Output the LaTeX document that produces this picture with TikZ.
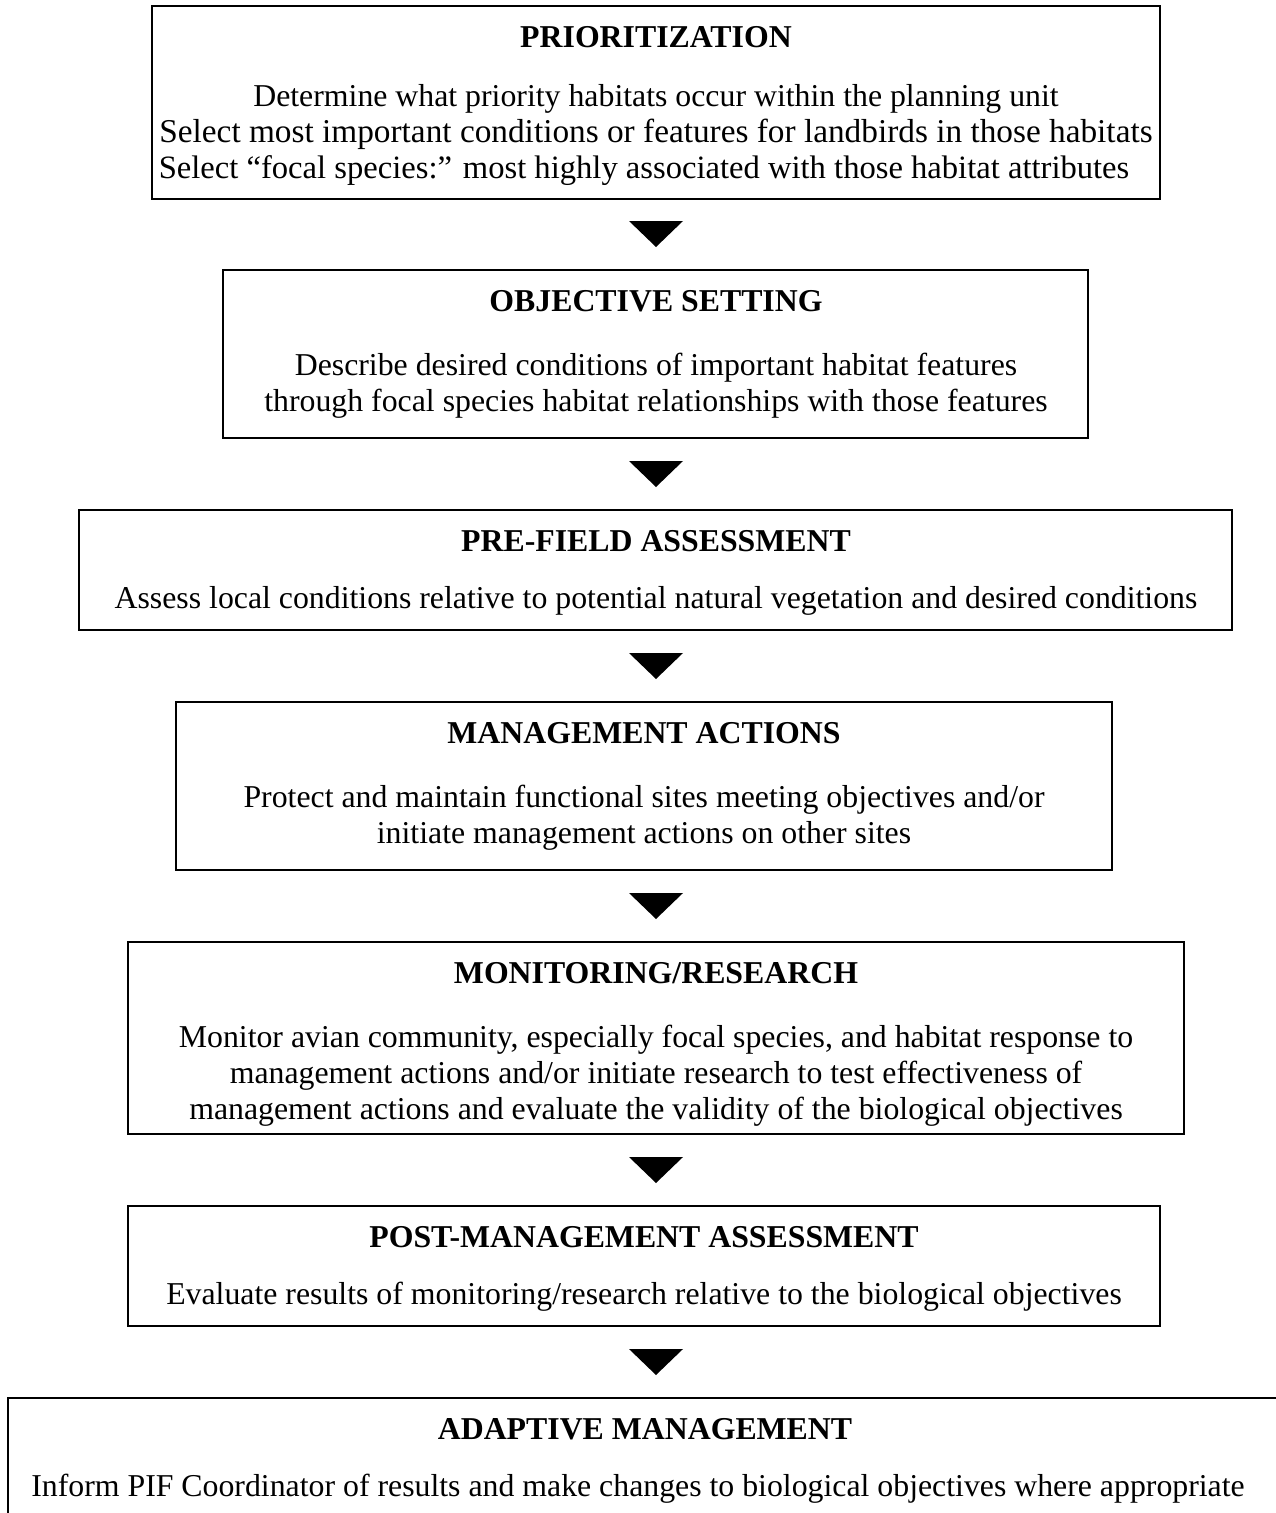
\documentclass[tikz,border=0pt]{standalone}
\usepackage{fontspec}
\setmainfont{Liberation Serif}
\usetikzlibrary{calc}
\begin{document}
\begin{tikzpicture}[x=1pt,y=-1pt,
  box/.style={draw=black,line width=1.7pt},
  ttl/.style={anchor=base,inner sep=0pt,font=\fontsize{31.8}{36}\selectfont\bfseries},
  txt/.style={anchor=base,inner sep=0pt,font=\fontsize{31.8}{36}\selectfont},
  tri/.style={fill=black}]
\clip (0,0) rectangle (1276,1513);
\useasboundingbox (0,0) rectangle (1276,1513);
% boxes
\coordinate (b1a) at (152,6);   \coordinate (b1b) at (1160,199);
\coordinate (b2a) at (223,270); \coordinate (b2b) at (1088,438);
\coordinate (b3a) at (79,510);  \coordinate (b3b) at (1232,630);
\coordinate (b4a) at (176,702); \coordinate (b4b) at (1112,870);
\coordinate (b5a) at (128,942); \coordinate (b5b) at (1184,1134);
\coordinate (b6a) at (128,1206);\coordinate (b6b) at (1160,1326);
\coordinate (b7a) at (8,1398);  \coordinate (b7b) at (1290,1530);
\foreach \i in {1,...,7}{\draw[box] (b\i a) rectangle (b\i b);}
% texts
\node[ttl] (t1) at (656,47) {PRIORITIZATION};
\node[txt] (t1a) at (656,106) {Determine what priority habitats occur within the planning unit};
\node[txt,font=\fontsize{33.3}{36}\selectfont] (t1b) at (656,142) {Select most important conditions or features for landbirds in those habitats};
\node[txt,font=\fontsize{32.6}{36}\selectfont] (t1c) at (644,178) {Select “focal species:” most highly associated with those habitat attributes};
\node[ttl] (t2) at (656,311) {OBJECTIVE SETTING};
\node[txt] (t2a) at (656,375) {Describe desired conditions of important habitat features};
\node[txt] (t2b) at (656,411) {through focal species habitat relationships with those features};
\node[ttl] (t3) at (656,551) {PRE-FIELD ASSESSMENT};
\node[txt] (t3a) at (656,608) {Assess local conditions relative to potential natural vegetation and desired conditions};
\node[ttl] (t4) at (644,743) {MANAGEMENT ACTIONS};
\node[txt] (t4a) at (644,807) {Protect and maintain functional sites meeting objectives and/or};
\node[txt] (t4b) at (644,843) {initiate management actions on other sites};
\node[ttl] (t5) at (656,983) {MONITORING/RESEARCH};
\node[txt] (t5a) at (656,1047) {Monitor avian community, especially focal species, and habitat response to};
\node[txt] (t5b) at (656,1083) {management actions and/or initiate research to test effectiveness of};
\node[txt] (t5c) at (656,1119) {management actions and evaluate the validity of the biological objectives};
\node[ttl] (t6) at (644,1247) {POST-MANAGEMENT ASSESSMENT};
\node[txt] (t6a) at (644,1304) {Evaluate results of monitoring/research relative to the biological objectives};
\node[ttl] (t7) at (645,1439) {ADAPTIVE MANAGEMENT};
\node[txt] (t7a) at (638,1496) {Inform PIF Coordinator of results and make changes to biological objectives where appropriate};
% triangles
\foreach \y in {221,461,653,893,1157,1349}{
  \fill[tri] (629,\y) -- (683,\y) -- (656,\y+26) -- cycle;}
\end{tikzpicture}
\end{document}
